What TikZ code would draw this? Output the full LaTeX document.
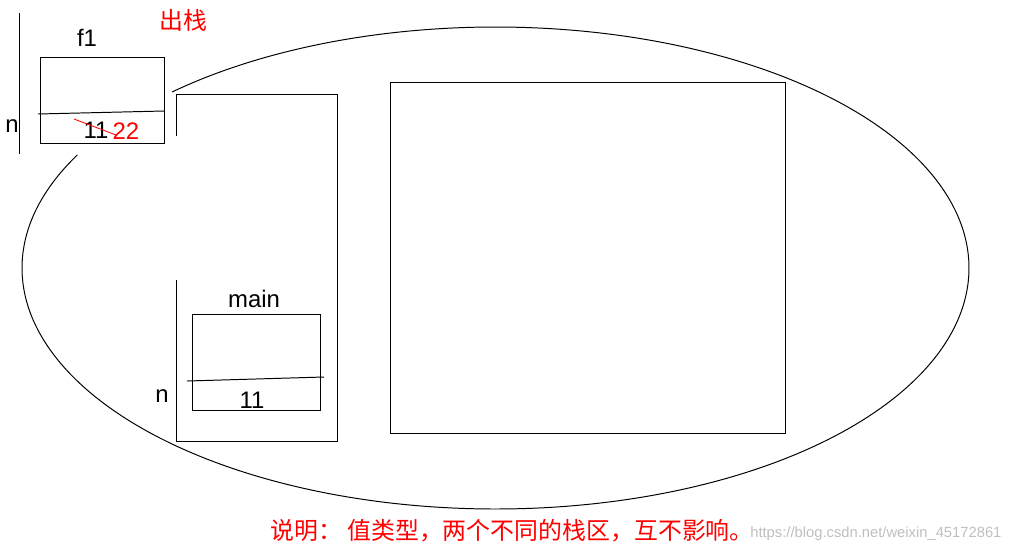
\documentclass[tikz,border=0pt]{standalone}
\usepackage{fontspec}
\setmainfont{Liberation Sans}
\newfontfamily\cjk{Noto Sans CJK SC}
\usetikzlibrary{positioning}
\usetikzlibrary{calc}
\tikzstyle{thin}   = [draw=black, line width=0.7pt]
\tikzstyle{lbl}    = [font=\fontsize{17}{17}\selectfont, inner sep=0pt]
\tikzstyle{rlbl}   = [text=red, font=\cjk\fontsize{17}{17}\selectfont, inner sep=0pt]
\tikzstyle{strike} = [draw=red, line width=0.6pt]
\tikzstyle{wmark}  = [text=black!25, font=\fontsize{10.5}{10.5}\selectfont, inner sep=0pt]

\begin{document}
\begin{tikzpicture}[x=0.025cm, y=-0.025cm]
     \useasboundingbox (0,0) rectangle (1012,555);
     % heap ellipse, open at the top left
     \draw[thin] plot[domain=152:493.1, samples=240, smooth]
       ({495.5+473.5*cos(\x)}, {268-241*sin(\x)});
     % f1 frame
     \draw[thin] (19,13) -- (19,154);
     \draw[thin] (40,57) rectangle (164,143);
     \draw[thin] (38,114) -- (164,111);
     \node[lbl] (f1) at (87,38) {f1};
     \node[lbl] (nf) at (12,126) {n};
     \node[lbl] (oldv) at (96,130) {11};
     \node[lbl, text=red] (newv) at (126,131) {22};
     \draw[strike] (74,119) -- (116,135);
     \node[rlbl] (pop) at (183,20) {出栈};
     % stack area
     \draw[thin] (176,136) -- (176,94) -- (337,94) -- (337,441) -- (176,441) -- (176,280);
     % main frame
     \draw[thin] (192,314) rectangle (320,410);
     \draw[thin] (187,381) -- (324,377);
     \node[lbl] (main) at (254,299) {main};
     \node[lbl] (nm) at (162,396) {n};
     \node[lbl] (mv) at (252,400) {11};
     % heap area
     \draw[thin] (390,82) rectangle (785,433);
     % note
     \node[rlbl, anchor=west] (note) at (270,531) {说明：\ 值类型，两个不同的栈区，互不影响。};
     \node[wmark, anchor=west] (url) at (750,534) {https://blog.csdn.net/weixin\_45172861};
    \end{tikzpicture}
\end{document}
